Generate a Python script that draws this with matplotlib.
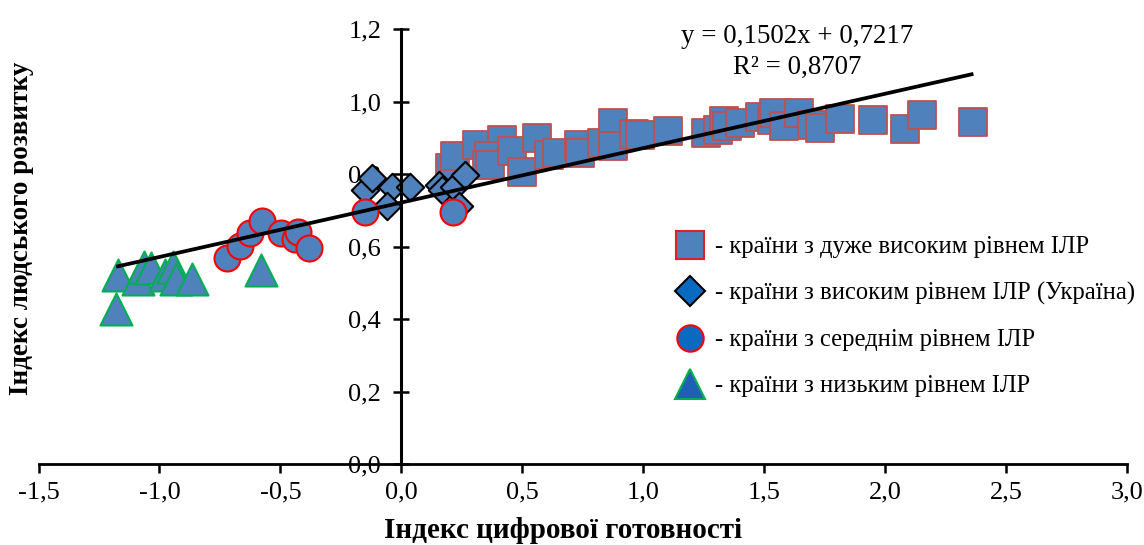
import matplotlib
matplotlib.use('Agg')
import matplotlib.pyplot as plt
from matplotlib.lines import Line2D
import numpy as np

plt.rcParams['font.family'] = ['Liberation Serif', 'DejaVu Serif']

# ---- data ----
very_high_x = [0.202, 0.223, 0.313, 0.416, 0.361, 0.354, 0.368, 0.457, 0.499, 0.561,
               0.609, 0.643, 0.733, 0.740, 0.829, 0.877, 0.877, 0.960, 0.988, 1.102,
               1.260, 1.311, 1.332, 1.346, 1.401, 1.483, 1.532, 1.539, 1.580, 1.642,
               1.697, 1.731, 1.814, 1.949, 2.083, 2.152, 2.365]
very_high_y = [0.817, 0.849, 0.881, 0.895, 0.849, 0.826, 0.826, 0.863, 0.807, 0.900,
               0.854, 0.858, 0.881, 0.858, 0.886, 0.941, 0.877, 0.910, 0.909, 0.920,
               0.915, 0.923, 0.946, 0.932, 0.941, 0.959, 0.950, 0.969, 0.932, 0.969,
               0.936, 0.927, 0.952, 0.950, 0.925, 0.964, 0.943]

high_x = [-0.149, -0.121, -0.038, -0.059, 0.037, 0.154, 0.170, 0.216, 0.264, 0.237]
high_y = [0.757, 0.789, 0.766, 0.711, 0.766, 0.771, 0.757, 0.766, 0.798, 0.711]

medium_x = [-0.720, -0.669, -0.625, -0.575, -0.497, -0.441, -0.428, -0.382, -0.150, 0.212]
medium_y = [0.568, 0.603, 0.639, 0.670, 0.637, 0.622, 0.641, 0.597, 0.695, 0.697]

low_x = [-1.172, -1.179, -1.090, -1.065, -1.034, -0.979, -0.945, -0.931, -0.865, -0.582]
low_y = [0.523, 0.427, 0.510, 0.545, 0.540, 0.522, 0.545, 0.512, 0.511, 0.535]

slope, intercept, r2 = 0.1502, 0.7217, 0.8707

x_ticks = [-1.5, -1.0, -0.5, 0.0, 0.5, 1.0, 1.5, 2.0, 2.5, 3.0]
y_ticks = [0.0, 0.2, 0.4, 0.6, 0.8, 1.0, 1.2]

labels = ['- країни з дуже високим рівнем ІЛР',
          '- країни з високим рівнем ІЛР (Україна)',
          '- країни з середнім рівнем ІЛР',
          '- країни з низьким рівнем ІЛР']

# ---- figure ----
W, H = 1144, 545
fig = plt.figure(figsize=(W / 100, H / 100), dpi=100)
x0, x1, y0, y1 = 38.5, 1127, 464, 29.3
ax = fig.add_axes([x0 / W, 1 - y0 / H, (x1 - x0) / W, (y0 - y1) / H])
ax.set_xlim(-1.5, 3.0)
ax.set_ylim(0, 1.2)

blue = '#4F81BD'
ax.scatter(very_high_x, very_high_y, marker='s', s=385, facecolor=blue,
           edgecolor='#C0504D', linewidth=1.3, zorder=3)
ax.scatter(high_x, high_y, marker='D', s=195, facecolor=blue,
           edgecolor='black', linewidth=1.5, zorder=4)
ax.scatter(medium_x, medium_y, marker='o', s=350, facecolor=blue,
           edgecolor='#FF0000', linewidth=1.5, zorder=5)
ax.scatter(low_x, low_y, marker='^', s=530, facecolor=blue,
           edgecolor='#00B050', linewidth=1.5, zorder=6)

all_x = very_high_x + high_x + medium_x + low_x
xl = np.array([min(all_x), max(all_x)])
ax.plot(xl, slope * xl + intercept, color='black', lw=2.7, zorder=7,
        solid_capstyle='butt')

ax.text(1.636, 1.180, f'y = {slope:.4f}x + {intercept:.4f}'.replace('.', ','),
        ha='center', va='center', fontsize=19.4)
ax.text(1.636, 1.095, f'R² = {r2:.4f}'.replace('.', ','),
        ha='center', va='center', fontsize=19.4)

# axes styling
for s in ['top', 'right']:
    ax.spines[s].set_visible(False)
ax.spines['left'].set_position(('data', 0))
ax.spines['left'].set_linewidth(2.2)
ax.spines['left'].set_zorder(8)
ax.spines['bottom'].set_linewidth(2.0)
ax.spines['bottom'].set_zorder(8)
ax.set_xticks(x_ticks)
ax.set_yticks(y_ticks)
ax.set_xticklabels([f'{v:.1f}'.replace('.', ',') for v in x_ticks], fontsize=19)
ax.set_yticklabels([f'{v:.1f}'.replace('.', ',') for v in y_ticks], fontsize=19)
ax.tick_params(axis='y', direction='inout', length=11, width=1.8, pad=9)
ax.tick_params(axis='x', direction='out', length=6.5, width=1.8, pad=6)

fig.text(563 / W, 1 - 530 / H, 'Індекс цифрової готовності', ha='center', va='center',
         fontsize=21, fontweight='bold')
fig.text(22 / W, 1 - 228 / H, 'Індекс людського розвитку', ha='center', va='center',
         fontsize=19.5, fontweight='bold', rotation=90)

handles = [
    Line2D([], [], ls='none', marker='s', markersize=20, mfc=blue, mec='#E02020', mew=1.5),
    Line2D([], [], ls='none', marker='D', markersize=15, mfc='#0A6AC0', mec='black', mew=1.5),
    Line2D([], [], ls='none', marker='o', markersize=19, mfc='#0A6AC0', mec='#FF0000', mew=1.5),
    Line2D([], [], ls='none', marker='^', markersize=21, mfc='#1F5FB5', mec='#00B050', mew=1.5),
]
fig.legend(handles, labels, loc='upper left', bbox_to_anchor=(675.4 / W, 1 - 236 / H),
           frameon=False, fontsize=17.7, handlelength=1.2, handletextpad=0.42,
           borderpad=0, borderaxespad=0, labelspacing=0.97)

fig.savefig('out.png', dpi=100)
